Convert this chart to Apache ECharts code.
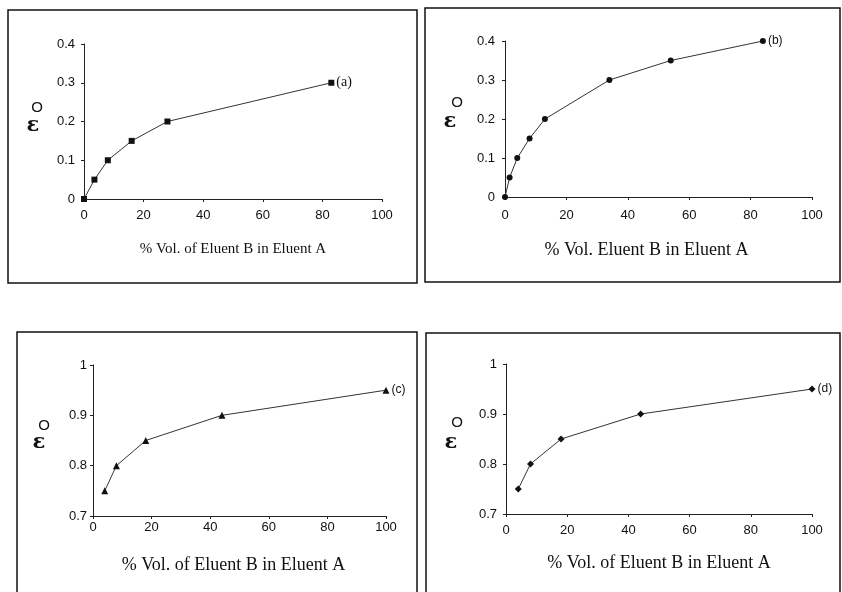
<!DOCTYPE html>
<html>
<head>
<meta charset="utf-8">
<script src="https://cdn.jsdelivr.net/npm/echarts@6/dist/echarts.min.js"></script>
<style>
html,body{margin:0;padding:0;background:#fff;}
#chart{width:842px;height:592px;}
</style>
</head>
<body>
<div id="chart"></div>
<script>
// Panel (a)
const xA = [0, 3.5, 8, 16, 28, 83];
const yA = [0, 0.05, 0.1, 0.15, 0.2, 0.3];
// Panel (b)
const xB = [0, 1.5, 4, 8, 13, 34, 54, 84];
const yB = [0, 0.05, 0.1, 0.15, 0.2, 0.3, 0.35, 0.4];
// Panel (c)
const xC = [4, 8, 18, 44, 100];
const yC = [0.75, 0.8, 0.85, 0.9, 0.95];
// Panel (d)
const xD = [4, 8, 18, 44, 100];
const yD = [0.75, 0.8, 0.85, 0.9, 0.95];

const panelTags = ['(a)', '(b)', '(c)', '(d)'];
const xTitles = ['% Vol. of Eluent B in Eluent A', '% Vol. Eluent B in Eluent A',
                 '% Vol. of Eluent B in Eluent A', '% Vol. of Eluent B in Eluent A'];
const yRanges = [[0, 0.4], [0, 0.4], [0.7, 1], [0.7, 1]];
const xRange = [0, 100];

const SANS = '"Liberation Sans", Arial, sans-serif';
const SERIF = '"Liberation Serif", "Times New Roman", serif';

const grids = [
  {left: 84, top: 44, width: 298, height: 155},
  {left: 505, top: 41, width: 307, height: 156},
  {left: 93, top: 365, width: 293, height: 151},
  {left: 506, top: 364, width: 306, height: 150}
];
const xLabelMargin = [10, 12, 5, 10];
const yLabelMargin = [9, 10, 6, 9];
const nameGaps = [43, 44, 40, 40];
const nameSizes = [15, 18, 18, 18];
const namePads = [[0,0,0,0],[0,24,0,0],[0,12,0,0],[0,0,0,0]];
const symbols = ['rect', 'circle', 'triangle', 'diamond'];
const symSizes = [6, 6, 7, 7];
const tagFonts = [{fontFamily: SERIF, fontSize: 14}, {fontFamily: SANS, fontSize: 12},
                  {fontFamily: SANS, fontSize: 12}, {fontFamily: SANS, fontSize: 12}];

const xs = [xA, xB, xC, xD];
const ys = [yA, yB, yC, yD];

const axisLine = {show: true, onZero: false, lineStyle: {color: '#222', width: 1}};
const xAxis = [], yAxis = [], series = [];
for (let i = 0; i < 4; i++) {
  xAxis.push({
    type: 'value', gridIndex: i, min: xRange[0], max: xRange[1], interval: 20,
    axisLine: axisLine,
    axisTick: {show: true, length: 3, inside: false, lineStyle: {color: '#222'}},
    splitLine: {show: false},
    axisLabel: {color: '#111', fontFamily: SANS, fontSize: 13, margin: xLabelMargin[i]},
    name: xTitles[i], nameLocation: 'middle', nameGap: nameGaps[i],
    nameTextStyle: {color: '#111', fontFamily: SERIF, fontSize: nameSizes[i], padding: namePads[i]}
  });
  yAxis.push({
    type: 'value', gridIndex: i, min: yRanges[i][0], max: yRanges[i][1], interval: 0.1,
    axisLine: axisLine,
    axisTick: {show: true, length: 3, lineStyle: {color: '#222'}},
    splitLine: {show: false},
    axisLabel: {color: '#111', fontFamily: SANS, fontSize: 13, margin: yLabelMargin[i]}
  });
  const data = xs[i].map((x, k) => {
    const item = {value: [x, ys[i][k]]};
    if (k === xs[i].length - 1) {
      item.label = Object.assign({show: true, position: 'right', distance: 2,
        formatter: panelTags[i], color: '#111'}, tagFonts[i]);
    }
    return item;
  });
  series.push({
    type: 'line', xAxisIndex: i, yAxisIndex: i, data: data,
    symbol: symbols[i], symbolSize: symSizes[i], showSymbol: true,
    lineStyle: {color: '#333', width: 1},
    itemStyle: {color: '#111'},
    animation: false, silent: true
  });
}

// y-axis symbol ε° drawn upright
const yNamePos = [
  {o: [37, 108], e: [33, 126]},
  {o: [457, 103], e: [450, 122]},
  {o: [44, 426], e: [39, 443]},
  {o: [457, 423], e: [451, 443]}
];
const graphic = [];
const boxes = [[8, 10, 409, 273], [425, 8, 415, 274], [17, 332, 400, 270], [426, 333, 414, 270]];
boxes.forEach(b => graphic.push({
  type: 'rect', shape: {x: b[0], y: b[1], width: b[2], height: b[3]},
  style: {fill: 'none', stroke: '#111', lineWidth: 1.5}, silent: true
}));
yNamePos.forEach(p => {
  graphic.push({type: 'text', x: p.o[0], y: p.o[1],
    style: {text: 'O', font: '15px ' + SANS, fill: '#111', align: 'center', verticalAlign: 'middle'}});
  graphic.push({type: 'text', x: p.e[0], y: p.e[1],
    style: {text: 'ε', font: 'bold 21px "DejaVu Serif", serif', fill: '#111', align: 'center', verticalAlign: 'middle'}});
});

const chart = echarts.init(document.getElementById('chart'), null, {renderer: 'canvas'});
chart.setOption({
  animation: false,
  backgroundColor: '#fff',
  grid: grids,
  xAxis: xAxis,
  yAxis: yAxis,
  series: series,
  graphic: graphic
});
</script>
</body>
</html>
